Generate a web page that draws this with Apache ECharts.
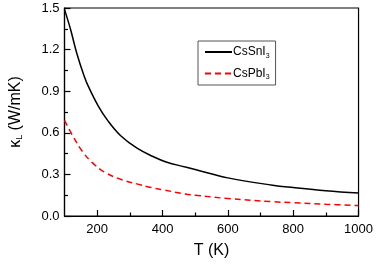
<!DOCTYPE html>
<html><head><meta charset="utf-8">
<script src="https://cdn.jsdelivr.net/npm/echarts@6/dist/echarts.min.js"></script>
<style>html,body{margin:0;padding:0;background:#fff}#c{width:376px;height:264px}</style>
</head><body><div id="c"></div>
<script>
const tempSn = [100, 118, 138, 160, 173, 203, 233, 272, 322, 371, 411, 470, 500, 600, 737, 800, 900, 1000];
const kappaSn = [1.49, 1.35, 1.17, 1.01, 0.935, 0.795, 0.686, 0.579, 0.489, 0.429, 0.39, 0.353, 0.335, 0.275, 0.222, 0.205, 0.182, 0.165];
const tempPb = [100, 126, 155, 185, 225, 274, 324, 366, 400, 470, 500, 600, 737, 800, 900, 1000];
const kappaPb = [0.69, 0.575, 0.465, 0.385, 0.313, 0.263, 0.23, 0.205, 0.19, 0.158, 0.15, 0.126, 0.103, 0.096, 0.085, 0.075];
const xLabels = [200, 400, 600, 800, 1000];
const xMinorTicks = [300, 500, 700, 900];
const seriesNames = ['CsSnI3', 'CsPbI3'];

const font = 'Liberation Sans, Arial, sans-serif';
const chart = echarts.init(document.getElementById('c'));
const pairs = (xs, ys) => xs.map((x, i) => [x, ys[i]]);
chart.setOption({
  animation: false,
  backgroundColor: '#fff',
  grid: { left: 55, right: 17, top: 8, bottom: 46, show: true, borderColor: '#000', borderWidth: 1.2 },
  legend: {
    left: 198, top: 41, orient: 'vertical', itemWidth: 27, itemHeight: 10, itemGap: 8,
    padding: [5, 6, 4, 6], borderColor: '#555', borderWidth: 1,
    itemStyle: { opacity: 0 },
    formatter: n => n.replace(/3$/, '') + '{s|3}',
    textStyle: { fontFamily: font, fontSize: 12, color: '#000', padding: [0, 0, 0, -4],
      rich: { s: { fontSize: 7, fontFamily: font, color: '#000', padding: [8, 0, 0, 0] } } },
    data: seriesNames
  },
  xAxis: [{
    type: 'value', min: 100, max: 1000,
    name: 'T (K)', nameLocation: 'middle', nameGap: 27,
    nameTextStyle: { fontFamily: font, fontSize: 16, color: '#000' },
    axisLine: { show: true, onZero: false, lineStyle: { color: '#000', width: 1.2 } },
    axisTick: { show: true, inside: true, length: 6, customValues: xLabels, lineStyle: { color: '#000', width: 1.2 } },
    axisLabel: { customValues: xLabels, fontFamily: font, fontSize: 13, color: '#000', margin: 7, formatter: v => String(v) },
    splitLine: { show: false }
  }, {
    type: 'value', min: 100, max: 1000, position: 'bottom',
    axisLine: { show: false },
    axisTick: { show: true, inside: true, length: 3.5, customValues: xMinorTicks, lineStyle: { color: '#000', width: 1.2 } },
    axisLabel: { show: false }, splitLine: { show: false }
  }],
  yAxis: {
    type: 'value', min: 0, max: 1.5, interval: 0.3,
    name: '{k|κ}{l|L}{k| (W/mK)}', nameLocation: 'middle', nameGap: 40, nameRotate: 90,
    nameTextStyle: { fontFamily: font, fontSize: 16, color: '#000',
      rich: { k: { fontFamily: font, fontSize: 16, color: '#000' }, l: { fontFamily: font, fontSize: 9, color: '#000', padding: [8, 0, 0, 0] } } },
    axisLine: { show: true, lineStyle: { color: '#000', width: 1.2 } },
    axisTick: { show: true, inside: true, length: 6, lineStyle: { color: '#000', width: 1.2 } },
    minorTick: { show: true, splitNumber: 2, length: 3.5, lineStyle: { color: '#000', width: 1.2 } },
    axisLabel: { fontFamily: font, fontSize: 13, color: '#000', margin: 5, formatter: v => v.toFixed(1) },
    splitLine: { show: false }
  },
  series: [{
    name: seriesNames[0], type: 'line', smooth: 0.4, showSymbol: false, symbol: 'none',
    data: pairs(tempSn, kappaSn), lineStyle: { color: '#000', width: 1.5 }, itemStyle: { color: '#000' }
  }, {
    name: seriesNames[1], type: 'line', smooth: 0.4, showSymbol: false, symbol: 'none',
    data: pairs(tempPb, kappaPb), lineStyle: { color: '#ff0000', width: 1.5, type: [6, 4] }, itemStyle: { color: '#ff0000' }
  }]
});
</script></body></html>
